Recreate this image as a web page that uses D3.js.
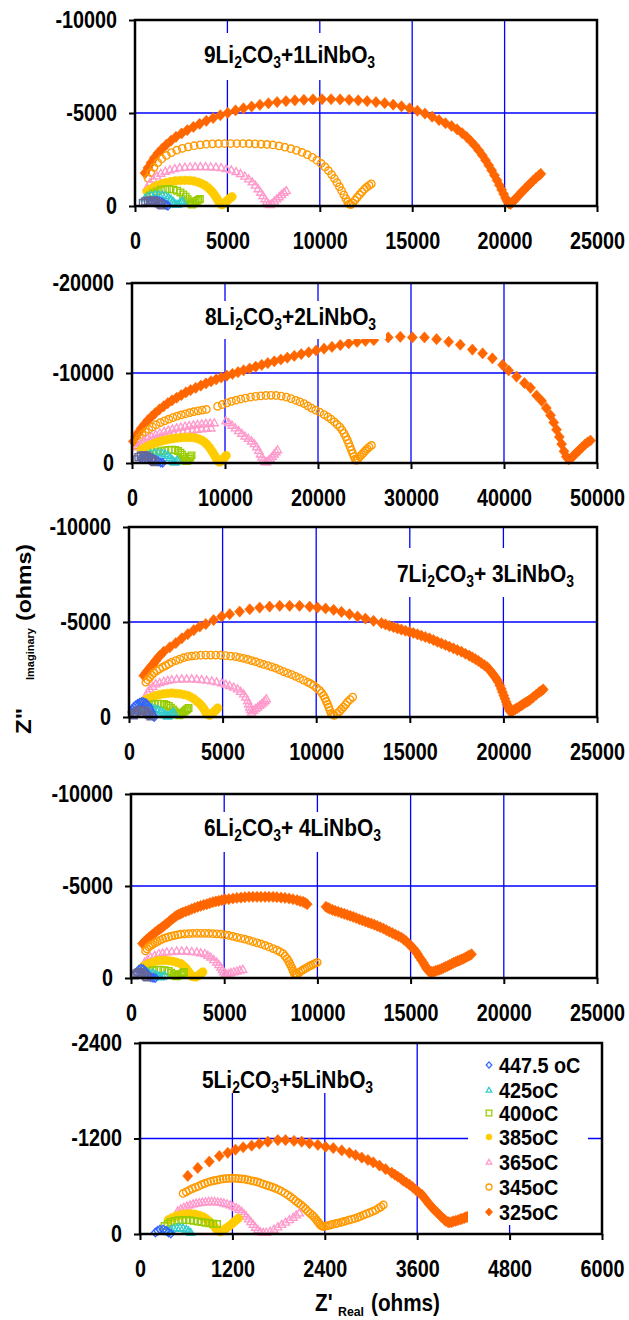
<!DOCTYPE html>
<html>
<head>
<meta charset="utf-8">
<script src="https://cdn.jsdelivr.net/npm/d3@7"></script>
<style>
  body { margin: 0; background: #fff; }
  svg { display: block; }
</style>
</head>
<body>
<svg id="chart" width="629" height="1320"></svg>
<script>
// ---------- Nyquist data: [Z' (ohms), Z'' (ohms)] ----------

// Panel 1: 9Li2CO3 + 1LiNbO3
const p1_325 = [[540,-1770],[700,-2050],[870,-2330],[1050,-2600],[1250,-2850],[1470,-3080],[1700,-3300],[1950,-3510],[2220,-3720],[2520,-3900],[2830,-4080],[3160,-4250],[3500,-4420],[3860,-4580],[4230,-4730],[4620,-4880],[5020,-5010],[5440,-5140],[5870,-5250],[6310,-5350],[6760,-5440],[7220,-5520],[7690,-5590],[8170,-5640],[8650,-5680],[9140,-5710],[9630,-5730],[10120,-5740],[10610,-5740],[11100,-5730],[11590,-5710],[12080,-5680],[12560,-5640],[13040,-5590],[13510,-5530],[13970,-5450],[14420,-5360],[14860,-5250],[15280,-5120],[15690,-4970],[16080,-4800],[16450,-4620],[16800,-4450],[17130,-4300],[17430,-4120],[17700,-3920],[17950,-3710],[18180,-3480],[18400,-3240],[18600,-2990],[18790,-2730],[18970,-2460],[19140,-2190],[19300,-1920],[19450,-1650],[19590,-1380],[19720,-1120],[19840,-870],[19950,-640],[20050,-430],[20140,-260],[20230,-140],[20320,-110],[20420,-200],[20540,-330],[20670,-470],[20810,-620],[20950,-770],[21100,-920],[21250,-1070],[21400,-1220],[21550,-1370],[21700,-1510],[21850,-1640],[21960,-1730]];
const p1_345 = [[700,-1500],[850,-1800],[1030,-2080],[1230,-2330],[1450,-2540],[1700,-2720],[1970,-2870],[2260,-3000],[2560,-3100],[2880,-3180],[3200,-3240],[3530,-3290],[3860,-3320],[4190,-3340],[4520,-3350],[4850,-3360],[5180,-3360],[5510,-3360],[5840,-3360],[6170,-3350],[6500,-3340],[6820,-3330],[7140,-3310],[7460,-3280],[7790,-3230],[8110,-3160],[8430,-3080],[8740,-2990],[9040,-2880],[9320,-2760],[9590,-2620],[9840,-2460],[10070,-2290],[10280,-2100],[10470,-1900],[10640,-1690],[10790,-1480],[10930,-1260],[11060,-1040],[11180,-820],[11300,-600],[11410,-400],[11510,-220],[11600,-100],[11690,-70],[11790,-170],[11900,-310],[12020,-460],[12150,-610],[12280,-760],[12410,-900],[12540,-1010],[12670,-1110],[12790,-1190]];
const p1_365 = [[650,-1000],[800,-1250],[980,-1450],[1180,-1620],[1400,-1760],[1640,-1870],[1890,-1950],[2150,-2010],[2420,-2060],[2700,-2090],[2980,-2110],[3260,-2120],[3540,-2120],[3820,-2120],[4100,-2110],[4380,-2090],[4660,-2060],[4940,-2010],[5210,-1940],[5470,-1850],[5710,-1740],[5940,-1610],[6150,-1460],[6340,-1300],[6510,-1120],[6660,-930],[6800,-740],[6920,-560],[7030,-390],[7130,-240],[7220,-120],[7310,-70],[7420,-140],[7540,-260],[7670,-380],[7800,-500],[7930,-620],[8060,-730],[8190,-830]];
const p1_385 = [[650,-780],[820,-900],[1010,-1010],[1220,-1110],[1440,-1190],[1680,-1260],[1930,-1310],[2190,-1350],[2450,-1370],[2710,-1380],[2960,-1370],[3200,-1340],[3420,-1280],[3620,-1200],[3800,-1100],[3960,-980],[4100,-850],[4220,-710],[4330,-560],[4420,-420],[4500,-290],[4570,-180],[4640,-100],[4720,-70],[4810,-130],[4900,-210],[4990,-290],[5080,-370],[5170,-440],[5250,-500]];
const p1_400 = [[800,-560],[980,-700],[1180,-800],[1400,-870],[1630,-900],[1860,-910],[2080,-880],[2280,-820],[2460,-730],[2610,-620],[2740,-500],[2850,-370],[2940,-250],[3010,-140],[3080,-80],[3160,-130],[3250,-200],[3340,-270],[3430,-330],[3510,-380]];
const p1_425 = [[550,-430],[720,-520],[900,-580],[1090,-610],[1280,-620],[1470,-600],[1650,-550],[1810,-470],[1950,-370],[2060,-260],[2150,-150],[2230,-80],[2320,-100],[2410,-160],[2500,-220],[2580,-270]];
const p1_447 = [[900,-250],[1050,-300],[1200,-300],[1350,-260],[1480,-190],[1590,-110],[1690,-50],[1780,-20]];
const p1_470 = [[430,-160],[560,-240],[700,-280],[850,-290],[1000,-270],[1140,-220],[1270,-150],[1380,-80],[1460,-30]];

// Panel 2: 8Li2CO3 + 2LiNbO3
const p2_325 = [[150,-2400],[400,-2900],[700,-3400],[1000,-3850],[1350,-4300],[1700,-4750],[2100,-5150],[2500,-5550],[2950,-5950],[3400,-6300],[3850,-6650],[4300,-6950],[4800,-7250],[5300,-7550],[5800,-7850],[6300,-8100],[6850,-8350],[7400,-8600],[7950,-8850],[8500,-9080],[9050,-9300],[9600,-9500],[10200,-9700],[10800,-9900],[11400,-10100],[12000,-10300],[12650,-10500],[13300,-10700],[13950,-10900],[14600,-11100],[15300,-11300],[16000,-11500],[16700,-11700],[17450,-11900],[18200,-12100],[19000,-12300],[19800,-12500],[20650,-12700],[21500,-12900],[22400,-13100],[23300,-13300],[24200,-13450],[25100,-13580],[26000,-13650],[27550,-13950],[28850,-14020],[30150,-13950],[31450,-13950],[32750,-13760],[34050,-13470],[35300,-13140],[36600,-12600],[37700,-12180],[38750,-11630],[39850,-10900],[40500,-10280],[41350,-9600],[42200,-8880],[42850,-8350],[43500,-7500],[44050,-6900],[44550,-6100],[45000,-5300],[45350,-4500],[45650,-3700],[45950,-2900],[46200,-2100],[46450,-1300],[46700,-700],[46950,-400],[47200,-500],[47500,-850],[47800,-1150],[48100,-1450],[48400,-1750],[48700,-2050],[49000,-2300],[49300,-2500]];
const p2_345 = [[350,-2000],[550,-2400],[800,-2800],[1100,-3150],[1450,-3450],[1800,-3750],[2200,-4000],[2600,-4250],[3050,-4480],[3500,-4680],[3950,-4870],[4400,-5040],[4850,-5200],[5300,-5340],[5750,-5470],[6200,-5590],[6650,-5700],[7100,-5800],[7550,-5880],[8000,-5950],[9200,-6300],[9700,-6500],[10200,-6680],[10700,-6840],[11200,-6980],[11700,-7110],[12200,-7220],[12750,-7320],[13300,-7400],[13850,-7460],[14400,-7500],[14950,-7520],[15500,-7500],[16050,-7440],[16600,-7320],[17100,-7150],[17600,-6970],[18050,-6790],[18500,-6600],[18900,-6350],[19300,-6100],[19750,-5870],[20200,-5640],[20650,-5380],[21050,-5130],[21400,-4880],[21750,-4580],[22050,-4280],[22350,-3990],[22600,-3650],[22800,-3300],[22980,-2930],[23150,-2560],[23300,-2180],[23450,-1800],[23590,-1420],[23730,-1060],[23870,-720],[24000,-430],[24130,-300],[24300,-450],[24500,-700],[24700,-930],[24900,-1150],[25100,-1370],[25300,-1580],[25500,-1770],[25750,-1950]];
const p2_365 = [[600,-1800],[900,-2150],[1250,-2450],[1650,-2720],[2100,-2960],[2550,-3170],[3000,-3360],[3450,-3520],[3900,-3660],[4350,-3790],[4800,-3900],[5250,-4000],[5700,-4090],[6150,-4170],[6600,-4240],[7050,-4300],[7500,-4350],[7950,-4400],[8400,-4440],[8850,-4470],[1500,-2200],[2000,-2450],[2500,-2650],[3000,-2850],[3500,-3000],[4000,-3150],[4500,-3280],[5000,-3400],[5500,-3500],[6000,-3590],[6500,-3670],[7000,-3740],[7500,-3800],[8000,-3850],[8500,-3890],[10100,-4700],[10400,-4500],[10750,-4200],[11100,-3900],[11450,-3600],[11800,-3300],[12150,-3000],[12500,-2750],[12850,-2450],[13150,-2150],[13400,-1800],[13620,-1400],[13800,-1000],[13970,-650],[14130,-350],[14300,-150],[14480,-120],[14680,-300],[14880,-500],[15080,-750],[15280,-1000],[15480,-1250],[15650,-1470]];
const p2_385 = [[1000,-1450],[1300,-1650],[1650,-1850],[2000,-2020],[2400,-2180],[2800,-2320],[3200,-2440],[3600,-2550],[4000,-2640],[4400,-2710],[4800,-2770],[5200,-2810],[5600,-2840],[6000,-2850],[6400,-2830],[6800,-2780],[7150,-2680],[7500,-2520],[7800,-2320],[8050,-2070],[8300,-1780],[8500,-1470],[8700,-1150],[8880,-840],[9040,-560],[9180,-320],[9320,-150],[9470,-120],[9640,-260],[9810,-450],[9980,-650],[10120,-830]];
const p2_400 = [[1500,-700],[1900,-900],[2300,-1070],[2700,-1210],[3100,-1320],[3500,-1400],[3900,-1450],[4300,-1470],[4650,-1440],[4950,-1330],[5200,-1150],[5400,-920],[5550,-670],[5680,-420],[5800,-220],[5950,-250],[6100,-450],[6250,-650],[6400,-850]];
const p2_425 = [[1200,-700],[1600,-900],[2000,-1050],[2400,-1130],[2800,-1150],[3200,-1120],[3550,-1020],[3850,-850],[4100,-620],[4300,-380],[4450,-180],[4600,-100],[4750,-200],[4900,-320]];
const p2_447 = [[1000,-500],[1400,-600],[1800,-600],[2200,-500],[2550,-350],[2850,-180],[3100,-60],[3300,-20]];
const p2_470 = [[500,-400],[700,-650],[950,-800],[1250,-850],[1550,-800],[1800,-650],[2050,-450],[2250,-250],[2400,-100]];

// Panel 3: 7Li2CO3 + 3LiNbO3
const p3_325 = [[790,-2180],[900,-2320],[1000,-2440],[1110,-2580],[1220,-2710],[1330,-2840],[1430,-2970],[1540,-3100],[1650,-3230],[1860,-3440],[2180,-3670],[2500,-3890],[2820,-4140],[3140,-4360],[3460,-4570],[3780,-4760],[4100,-4890],[4520,-5100],[4950,-5290],[5380,-5410],[5910,-5550],[6450,-5670],[6980,-5760],[7510,-5810],[8050,-5850],[8580,-5850],[9110,-5850],[9650,-5810],[10070,-5760],[10500,-5710],[10930,-5640],[11350,-5530],[11780,-5410],[12210,-5290],[12630,-5180],[13060,-5060],[13490,-4940],[13700,-4870],[13910,-4800],[14130,-4730],[14340,-4660],[14550,-4600],[14770,-4540],[14980,-4480],[15190,-4420],[15410,-4350],[15620,-4280],[15830,-4210],[16050,-4140],[16260,-4050],[16470,-3960],[16690,-3870],[16900,-3790],[17110,-3700],[17330,-3610],[17540,-3520],[17760,-3440],[17970,-3330],[18180,-3230],[18340,-3140],[18500,-3050],[18660,-2950],[18820,-2840],[18980,-2730],[19140,-2620],[19250,-2490],[19360,-2360],[19460,-2230],[19570,-2090],[19650,-1960],[19740,-1830],[19810,-1660],[19890,-1480],[19950,-1310],[20020,-1130],[20080,-960],[20150,-790],[20200,-660],[20250,-520],[20310,-400],[20360,-300],[20450,-320],[20530,-350],[20640,-410],[20740,-470],[20850,-540],[20960,-610],[21060,-680],[21170,-750],[21280,-810],[21380,-870],[21490,-960],[21600,-1050],[21760,-1180],[21920,-1310],[22030,-1380],[22130,-1450]];
const p3_345 = [[900,-1830],[1000,-1960],[1110,-2090],[1220,-2210],[1320,-2320],[1480,-2430],[1640,-2530],[1800,-2620],[1960,-2700],[2120,-2790],[2280,-2880],[2500,-2970],[2710,-3050],[2920,-3120],[3140,-3180],[3350,-3210],[3560,-3230],[3830,-3250],[4100,-3260],[4360,-3260],[4630,-3260],[4900,-3250],[5160,-3230],[5430,-3200],[5700,-3180],[5910,-3130],[6120,-3090],[6340,-3030],[6550,-2970],[6760,-2910],[6980,-2840],[7190,-2770],[7410,-2710],[7620,-2640],[7830,-2570],[8040,-2480],[8260,-2390],[8470,-2310],[8690,-2230],[8900,-2140],[9110,-2040],[9320,-1940],[9540,-1830],[9700,-1750],[9860,-1660],[10020,-1530],[10180,-1400],[10290,-1270],[10390,-1130],[10470,-980],[10540,-820],[10610,-670],[10670,-520],[10730,-350],[10800,-180],[10880,-120],[10970,-90],[11110,-190],[11250,-300],[11350,-410],[11460,-520],[11570,-650],[11670,-790],[11810,-920],[11950,-1050]];
const p3_365 = [[900,-1130],[1000,-1310],[1110,-1480],[1270,-1610],[1430,-1740],[1640,-1810],[1860,-1880],[2070,-1930],[2280,-1970],[2550,-1990],[2820,-2010],[3080,-2010],[3350,-2010],[3620,-1990],[3880,-1970],[4150,-1940],[4420,-1900],[4680,-1850],[4950,-1800],[5160,-1730],[5380,-1660],[5590,-1570],[5800,-1480],[5960,-1350],[6120,-1220],[6230,-1050],[6340,-870],[6390,-700],[6440,-520],[6500,-390],[6550,-260],[6660,-350],[6760,-440],[6870,-520],[6980,-610],[7090,-700],[7190,-790],[7270,-870],[7340,-960]];
const p3_385 = [[680,-790],[840,-870],[1000,-960],[1220,-1050],[1430,-1130],[1640,-1180],[1860,-1220],[2070,-1240],[2280,-1260],[2500,-1240],[2710,-1220],[2920,-1180],[3140,-1130],[3300,-1050],[3460,-960],[3620,-830],[3780,-700],[3890,-570],[3990,-440],[4070,-310],[4140,-180],[4230,-130],[4310,-90],[4420,-170],[4520,-260],[4630,-360],[4740,-470]];
const p3_400 = [[580,-440],[740,-510],[900,-580],[1060,-620],[1220,-660],[1380,-680],[1540,-700],[1700,-690],[1860,-680],[2000,-630],[2130,-580],[2240,-490],[2350,-400],[2430,-300],[2520,-210],[2600,-150],[2690,-90],[2780,-160],[2860,-230],[2950,-290],[3030,-350],[3110,-410],[3180,-470]];
const p3_425 = [[470,-350],[630,-390],[790,-440],[950,-460],[1110,-470],[1270,-460],[1430,-440],[1570,-380],[1710,-310],[1820,-230],[1920,-160],[2000,-100],[2070,-50],[2160,-100],[2240,-160],[2320,-210],[2390,-260]];
const p3_447 = [[150,-260],[200,-400],[260,-520],[360,-620],[470,-700],[580,-750],[680,-790],[790,-770],[900,-730],[980,-640],[1070,-520],[1130,-390],[1200,-260],[1250,-130],[1290,-50],[1350,0]];
const p3_470 = [[260,-90],[330,-200],[420,-280],[520,-340],[640,-360],[760,-340],[880,-280],[980,-190],[1070,-110],[1150,-40]];

// Panel 4: 6Li2CO3 + 4LiNbO3
const p4_325 = [[620,-1870],[730,-1980],[840,-2090],[950,-2180],[1050,-2270],[1160,-2360],[1270,-2450],[1380,-2540],[1490,-2630],[1600,-2700],[1700,-2780],[1810,-2870],[1920,-2960],[2030,-3050],[2130,-3140],[2240,-3230],[2350,-3320],[2450,-3390],[2560,-3450],[2670,-3500],[2780,-3560],[2940,-3620],[3100,-3680],[3260,-3750],[3420,-3810],[3580,-3870],[3740,-3920],[3900,-3970],[4070,-4010],[4230,-4070],[4390,-4120],[4550,-4160],[4710,-4190],[4870,-4230],[5040,-4270],[5250,-4290],[5470,-4320],[5680,-4350],[5900,-4370],[6110,-4390],[6330,-4410],[6540,-4410],[6760,-4410],[6970,-4410],[7190,-4410],[7400,-4410],[7620,-4410],[7830,-4390],[8050,-4370],[8260,-4350],[8480,-4320],[8690,-4280],[8910,-4230],[9070,-4180],[9230,-4140],[9340,-4080],[9450,-4010],[10460,-3870],[10570,-3810],[10670,-3760],[10810,-3700],[10950,-3650],[11110,-3600],[11280,-3540],[11440,-3490],[11600,-3430],[11760,-3380],[11920,-3320],[12080,-3260],[12250,-3190],[12410,-3130],[12570,-3070],[12730,-3010],[12890,-2960],[13050,-2900],[13210,-2830],[13370,-2760],[13540,-2690],[13700,-2600],[13860,-2520],[14020,-2440],[14180,-2360],[14340,-2280],[14500,-2200],[14630,-2100],[14760,-2000],[14890,-1870],[15020,-1740],[15140,-1610],[15260,-1470],[15370,-1310],[15470,-1140],[15580,-980],[15690,-820],[15760,-690],[15840,-560],[15900,-470],[15970,-380],[16040,-350],[16120,-330],[16230,-350],[16330,-380],[16440,-420],[16550,-450],[16660,-500],[16760,-550],[16870,-600],[16980,-650],[17090,-710],[17200,-760],[17300,-820],[17410,-870],[17520,-920],[17630,-960],[17730,-1010],[17840,-1050],[17950,-1120],[18060,-1180],[18160,-1230],[18270,-1290]];
const p4_345 = [[780,-1470],[860,-1580],[950,-1690],[1050,-1760],[1160,-1830],[1290,-1910],[1420,-1980],[1560,-2050],[1700,-2120],[1860,-2180],[2020,-2230],[2180,-2280],[2350,-2320],[2510,-2350],[2670,-2380],[2880,-2400],[3100,-2410],[3310,-2420],[3530,-2430],[3740,-2430],[3960,-2430],[4170,-2420],[4390,-2410],[4600,-2400],[4820,-2380],[5040,-2340],[5250,-2310],[5470,-2260],[5680,-2210],[5900,-2160],[6110,-2110],[6330,-2040],[6540,-1980],[6760,-1910],[6970,-1850],[7190,-1770],[7400,-1690],[7620,-1600],[7830,-1510],[8000,-1420],[8160,-1330],[8260,-1190],[8370,-1050],[8450,-920],[8520,-780],[8590,-640],[8650,-510],[8700,-370],[8760,-240],[8840,-220],[8910,-200],[9020,-290],[9120,-380],[9230,-440],[9340,-510],[9450,-570],[9560,-640],[9660,-690],[9770,-740],[9880,-800],[9990,-850]];
const p4_365 = [[730,-870],[890,-1010],[1050,-1140],[1270,-1230],[1490,-1330],[1700,-1370],[1920,-1420],[2190,-1440],[2450,-1470],[2720,-1470],[2990,-1470],[3260,-1440],[3530,-1420],[3740,-1370],[3960,-1330],[4120,-1230],[4280,-1140],[4440,-1000],[4600,-870],[4710,-730],[4820,-600],[4900,-460],[4970,-330],[5060,-260],[5140,-200],[5250,-240],[5360,-290],[5520,-340],[5680,-380],[5840,-430],[6000,-470]];
const p4_385 = [[620,-600],[780,-690],[950,-780],[1160,-850],[1380,-930],[1590,-950],[1810,-960],[2020,-940],[2240,-910],[2450,-850],[2670,-780],[2800,-670],[2930,-560],[3010,-440],[3100,-330],[3180,-210],[3270,-90],[3380,-70],[3490,-60],[3600,-130],[3700,-200],[3780,-260],[3850,-330]];
const p4_400 = [[730,-330],[950,-370],[1160,-420],[1380,-440],[1590,-450],[1810,-420],[2020,-380],[2150,-290],[2280,-200],[2370,-140],[2450,-90],[2560,-150],[2670,-200],[2760,-260],[2840,-330]];
const p4_425 = [[520,-200],[680,-240],[840,-270],[1000,-280],[1160,-270],[1290,-210],[1420,-150],[1510,-100],[1590,-60],[1700,-100],[1810,-150]];
const p4_447 = [[300,-300],[420,-450],[540,-520],[660,-480],[760,-370],[860,-230],[960,-110],[1060,-40],[1180,-10],[1300,0]];
const p4_470 = [[200,-150],[300,-250],[400,-300],[500,-300],[600,-250],[700,-170],[790,-90],[870,-40]];

// Panel 5: 5Li2CO3 + 5LiNbO3
const p5_325 = [[620,-730],[750,-830],[900,-910],[1030,-980],[1140,-1020],[1240,-1060],[1340,-1090],[1450,-1110],[1550,-1135],[1660,-1160],[1790,-1180],[1890,-1180],[2000,-1170],[2100,-1160],[2200,-1140],[2310,-1120],[2410,-1095],[2510,-1080],[2620,-1050],[2720,-1020],[2800,-990],[2880,-960],[2960,-930],[3030,-900],[3110,-860],[3190,-815],[3270,-770],[3310,-745],[3350,-720],[3390,-695],[3420,-670],[3460,-645],[3500,-620],[3540,-590],[3580,-555],[3620,-525],[3660,-495],[3690,-455],[3720,-420],[3750,-380],[3790,-340],[3820,-305],[3860,-270],[3890,-240],[3920,-210],[3950,-185],[3970,-165],[4000,-150],[4020,-145],[4050,-150],[4070,-160],[4100,-165],[4130,-175],[4160,-185],[4180,-190],[4210,-200],[4230,-210],[4250,-215],[4270,-220],[4300,-230],[4330,-240],[4360,-250]];
const p5_345 = [[560,-510],[600,-530],[640,-550],[680,-570],[720,-585],[760,-600],[800,-620],[840,-635],[880,-650],[920,-660],[960,-670],[1000,-678],[1040,-685],[1080,-692],[1120,-697],[1160,-700],[1200,-701],[1240,-699],[1280,-697],[1320,-692],[1360,-688],[1400,-681],[1440,-672],[1480,-664],[1520,-654],[1560,-641],[1600,-627],[1640,-614],[1680,-602],[1720,-590],[1760,-573],[1800,-556],[1840,-537],[1880,-515],[1920,-490],[1955,-465],[1990,-440],[2020,-417],[2055,-390],[2090,-365],[2120,-340],[2150,-315],[2180,-285],[2210,-260],[2240,-235],[2265,-210],[2290,-180],[2310,-155],[2330,-130],[2345,-110],[2365,-100],[2385,-92],[2410,-98],[2436,-104],[2470,-112],[2500,-122],[2540,-130],[2570,-138],[2610,-146],[2640,-154],[2670,-163],[2710,-175],[2750,-185],[2790,-196],[2830,-210],[2860,-220],[2900,-238],[2940,-252],[2980,-267],[3020,-283],[3060,-301],[3100,-325],[3130,-342],[3160,-365]];
const p5_365 = [[490,-290],[530,-315],[570,-335],[610,-350],[650,-367],[690,-378],[730,-388],[770,-395],[810,-401],[850,-405],[890,-409],[930,-409],[970,-408],[1010,-404],[1050,-398],[1090,-390],[1130,-380],[1170,-367],[1210,-350],[1250,-333],[1285,-310],[1320,-284],[1350,-255],[1380,-225],[1410,-190],[1440,-155],[1470,-120],[1500,-85],[1530,-55],[1560,-30],[1600,-20],[1640,-22],[1690,-35],[1740,-60],[1790,-90],[1840,-120],[1890,-150],[1940,-180],[1990,-210],[2030,-240],[2070,-265]];
const p5_385 = [[370,-180],[420,-205],[470,-225],[520,-240],[570,-248],[620,-252],[670,-252],[720,-246],[770,-235],[820,-215],[860,-190],[900,-160],[930,-130],[960,-100],[985,-70],[1010,-45],[1040,-30],[1070,-40],[1100,-60],[1130,-80],[1160,-100],[1190,-125],[1220,-150],[1250,-175],[1275,-195]];
const p5_400 = [[320,-100],[360,-130],[400,-150],[450,-165],[500,-172],[550,-175],[600,-175],[650,-172],[700,-165],[750,-158],[800,-150],[850,-142],[900,-135],[950,-128],[1000,-125]];
const p5_425 = [[360,-30],[400,-55],[440,-70],[480,-78],[520,-80],[560,-75],[600,-60],[630,-40],[660,-20]];
const p5_447 = [[200,-20],[230,-40],[260,-55],[300,-55],[340,-40],[370,-20],[400,-5]];

// ---------- axis ticks ----------
const ticksX25k = [0, 5000, 10000, 15000, 20000, 25000];
const ticksX50k = [0, 10000, 20000, 30000, 40000, 50000];
const ticksX6k = [0, 1200, 2400, 3600, 4800, 6000];
const ticksY10k = [0, -5000, -10000];
const ticksY20k = [0, -10000, -20000];
const ticksY2400 = [0, -1200, -2400];

// ---------- legend ----------
const legendLabels = ["447.5 oC", "425oC", "400oC", "385oC", "365oC", "345oC", "325oC"];
const legendKeys = ["t447", "t425", "t400", "t385", "t365", "t345", "t325"];

// ---------- marker styles ----------
const styles = {
  t470: { shape: "square",   color: "#666699", fill: false, size: 3.5 },
  t447: { shape: "diamond",  color: "#3366FF", fill: false, size: 3.8 },
  t425: { shape: "triangle", color: "#33CCCC", fill: false, size: 3.9 },
  t400: { shape: "square",   color: "#99CC00", fill: false, size: 3.3 },
  t385: { shape: "circle",   color: "#FFCC00", fill: true,  size: 4.3 },
  t365: { shape: "triangle", color: "#FF99CC", fill: false, size: 4.0 },
  t345: { shape: "circle",   color: "#FF9900", fill: false, size: 3.7 },
  t325: { shape: "diamond",  color: "#FF6600", fill: true,  size: 5.0 }
};

function markerPath(shape, s) {
  switch (shape) {
    case "diamond":  return `M0,${-s * 1.12}L${s},0L0,${s * 1.12}L${-s},0Z`;
    case "triangle": return `M0,${-s}L${s},${s * 0.75}L${-s},${s * 0.75}Z`;
    case "square":   return `M${-s},${-s}H${s}V${s}H${-s}Z`;
    default:         return `M${s},0A${s},${s} 0 1,1 ${-s},0A${s},${s} 0 1,1 ${s},0Z`;
  }
}

// ---------- panels ----------
const FONT = "'Liberation Sans', Arial, Helvetica, sans-serif";

const panels = [
  { left: 135, right: 597, top: 20, bottom: 206, xMax: 25000, yMin: -10000,
    xTicks: ticksX25k, yTicks: ticksY10k,
    title: [["9Li", 0], ["2", 1], ["CO", 0], ["3", 1], ["+1LiNbO", 0], ["3", 1]],
    titleX: 204, titleY: 63, box: [194, 33, 386, 80],
    series: [["t325", p1_325], ["t345", p1_345], ["t365", p1_365], ["t385", p1_385],
             ["t400", p1_400], ["t425", p1_425], ["t447", p1_447], ["t470", p1_470]] },
  { left: 132, right: 597, top: 283, bottom: 463, xMax: 50000, yMin: -20000,
    xTicks: ticksX50k, yTicks: ticksY20k,
    title: [["8Li", 0], ["2", 1], ["CO", 0], ["3", 1], ["+2LiNbO", 0], ["3", 1]],
    titleX: 205, titleY: 325, box: [195, 301, 386, 339],
    series: [["t325", p2_325], ["t345", p2_345], ["t365", p2_365], ["t385", p2_385],
             ["t400", p2_400], ["t425", p2_425], ["t447", p2_447], ["t470", p2_470]] },
  { left: 129, right: 597, top: 527, bottom: 717, xMax: 25000, yMin: -10000,
    xTicks: ticksX25k, yTicks: ticksY10k,
    title: [["7Li", 0], ["2", 1], ["CO", 0], ["3", 1], ["+ 3LiNbO", 0], ["3", 1]],
    titleX: 397, titleY: 582, box: [388, 548, 588, 597],
    series: [["t325", p3_325], ["t345", p3_345], ["t365", p3_365], ["t385", p3_385],
             ["t400", p3_400], ["t425", p3_425], ["t447", p3_447], ["t470", p3_470]] },
  { left: 131, right: 597, top: 794, bottom: 978, xMax: 25000, yMin: -10000,
    xTicks: ticksX25k, yTicks: ticksY10k,
    title: [["6Li", 0], ["2", 1], ["CO", 0], ["3", 1], ["+ 4LiNbO", 0], ["3", 1]],
    titleX: 204, titleY: 836, box: [194, 812, 389, 852],
    series: [["t325", p4_325], ["t345", p4_345], ["t365", p4_365], ["t385", p4_385],
             ["t400", p4_400], ["t425", p4_425], ["t447", p4_447], ["t470", p4_470]] },
  { left: 140, right: 602, top: 1043, bottom: 1234, xMax: 6000, yMin: -2400,
    xTicks: ticksX6k, yTicks: ticksY2400,
    title: [["5Li", 0], ["2", 1], ["CO", 0], ["3", 1], ["+5LiNbO", 0], ["3", 1]],
    titleX: 202, titleY: 1088, box: [192, 1044, 383, 1093],
    series: [["t325", p5_325], ["t345", p5_345], ["t365", p5_365], ["t385", p5_385],
             ["t400", p5_400], ["t425", p5_425], ["t447", p5_447]],
    legend: true }
];

const svg = d3.select("#chart");
svg.append("rect").attr("width", 629).attr("height", 1320).attr("fill", "#fff");

function drawMarkers(g, data, key, x, y) {
  const st = styles[key];
  g.append("g").selectAll("path").data(data).join("path")
    .attr("transform", d => `translate(${x(d[0])},${y(d[1])})`)
    .attr("d", markerPath(st.shape, st.size))
    .attr("fill", st.fill ? st.color : "none")
    .attr("stroke", st.color)
    .attr("stroke-width", st.fill ? 0.6 : 1.35);
}

panels.forEach(p => {
  const x = d3.scaleLinear().domain([0, p.xMax]).range([p.left, p.right]);
  const y = d3.scaleLinear().domain([0, p.yMin]).range([p.bottom, p.top]);
  const g = svg.append("g");

  // gridlines at the inner ticks
  g.append("g").selectAll("line").data(p.xTicks.slice(1, -1)).join("line")
    .attr("x1", d => x(d)).attr("x2", d => x(d))
    .attr("y1", p.top).attr("y2", p.bottom)
    .attr("stroke", "#0000FF").attr("stroke-width", 1.3);
  g.append("g").selectAll("line").data(p.yTicks.slice(1, -1)).join("line")
    .attr("x1", p.left).attr("x2", p.right)
    .attr("y1", d => y(d)).attr("y2", d => y(d))
    .attr("stroke", "#0000FF").attr("stroke-width", 1.3);

  // series, coolest first so the hottest runs sit on top
  p.series.forEach(([key, data]) => drawMarkers(g, data, key, x, y));

  // composition label on a white box
  const b = p.box;
  g.append("rect").attr("x", b[0]).attr("y", b[1])
    .attr("width", b[2] - b[0]).attr("height", b[3] - b[1]).attr("fill", "#fff");
  const t = g.append("text")
    .attr("transform", `translate(${p.titleX},${p.titleY}) scale(0.87,1)`)
    .attr("font-family", FONT).attr("font-weight", "bold").attr("fill", "#000");
  let shifted = false;
  p.title.forEach(([txt, sub]) => {
    const ts = t.append("tspan").text(txt).attr("font-size", sub ? 16 : 24);
    if (sub && !shifted) { ts.attr("dy", 5); shifted = true; }
    else if (!sub && shifted) { ts.attr("dy", -5); shifted = false; }
  });

  // legend
  if (p.legend) {
    g.append("rect").attr("x", 468).attr("y", p.top + 1)
      .attr("width", 120).attr("height", 1225 - p.top - 1).attr("fill", "#fff");
    const rows = [1065, 1090, 1113, 1137, 1162, 1187, 1212];
    legendKeys.forEach((key, i) => {
      const st = styles[key];
      const s = key === "t325" ? 3.6 : (st.shape === "circle" ? 3.0 : 2.8);
      g.append("path")
        .attr("transform", `translate(489,${rows[i]})`)
        .attr("d", markerPath(st.shape, s))
        .attr("fill", st.fill ? st.color : "none")
        .attr("stroke", st.color).attr("stroke-width", st.fill ? 0.6 : 1.3);
      g.append("text")
        .attr("transform", `translate(499,${rows[i] + 8}) scale(0.9,1)`)
        .attr("font-family", FONT).attr("font-weight", "bold")
        .attr("font-size", 22).attr("fill", "#000")
        .text(legendLabels[i]);
    });
  }

  // plot border
  g.append("rect").attr("x", p.left).attr("y", p.top)
    .attr("width", p.right - p.left).attr("height", p.bottom - p.top)
    .attr("fill", "none").attr("stroke", "#000").attr("stroke-width", 2.5);

  // axes
  const ax = g.append("g").attr("transform", `translate(0,${p.bottom})`)
    .call(d3.axisBottom(x).tickValues(p.xTicks).tickFormat(d => String(d))
      .tickSize(6).tickPadding(21));
  const ay = g.append("g").attr("transform", `translate(${p.left},0)`)
    .call(d3.axisLeft(y).tickValues(p.yTicks).tickFormat(d => String(d))
      .tickSize(6).tickPadding(15));
  [ax, ay].forEach(a => {
    a.select(".domain").remove();
    a.selectAll(".tick line").attr("stroke", "#000").attr("stroke-width", 2);
    a.selectAll(".tick text")
      .attr("font-family", FONT).attr("font-weight", "bold")
      .attr("font-size", 23).attr("fill", "#000")
      .attr("transform", "scale(0.86,1)");
  });
});

// axis titles
const yTitle = svg.append("g").attr("transform", "translate(31,0) rotate(-90)")
  .attr("font-family", FONT).attr("font-weight", "bold").attr("fill", "#000");
yTitle.append("text").attr("transform", "translate(-734,0) scale(1.1,1)").attr("font-size", 22).text("Z\"");
yTitle.append("text").attr("transform", "translate(-680,3) scale(1.1,1)").attr("font-size", 10).text("Imaginary");
yTitle.append("text").attr("transform", "translate(-621,0) scale(1.1,1)").attr("font-size", 21).text("(ohms)");

const xTitle = svg.append("g").attr("font-family", FONT).attr("font-weight", "bold").attr("fill", "#000");
xTitle.append("text").attr("transform", "translate(315,1311) scale(0.9,1)").attr("font-size", 23).text("Z'");
xTitle.append("text").attr("transform", "translate(338,1316) scale(0.95,1)").attr("font-size", 13).text("Real");
xTitle.append("text").attr("transform", "translate(371,1311) scale(0.9,1)").attr("font-size", 23).text("(ohms)");
</script>
</body>
</html>
